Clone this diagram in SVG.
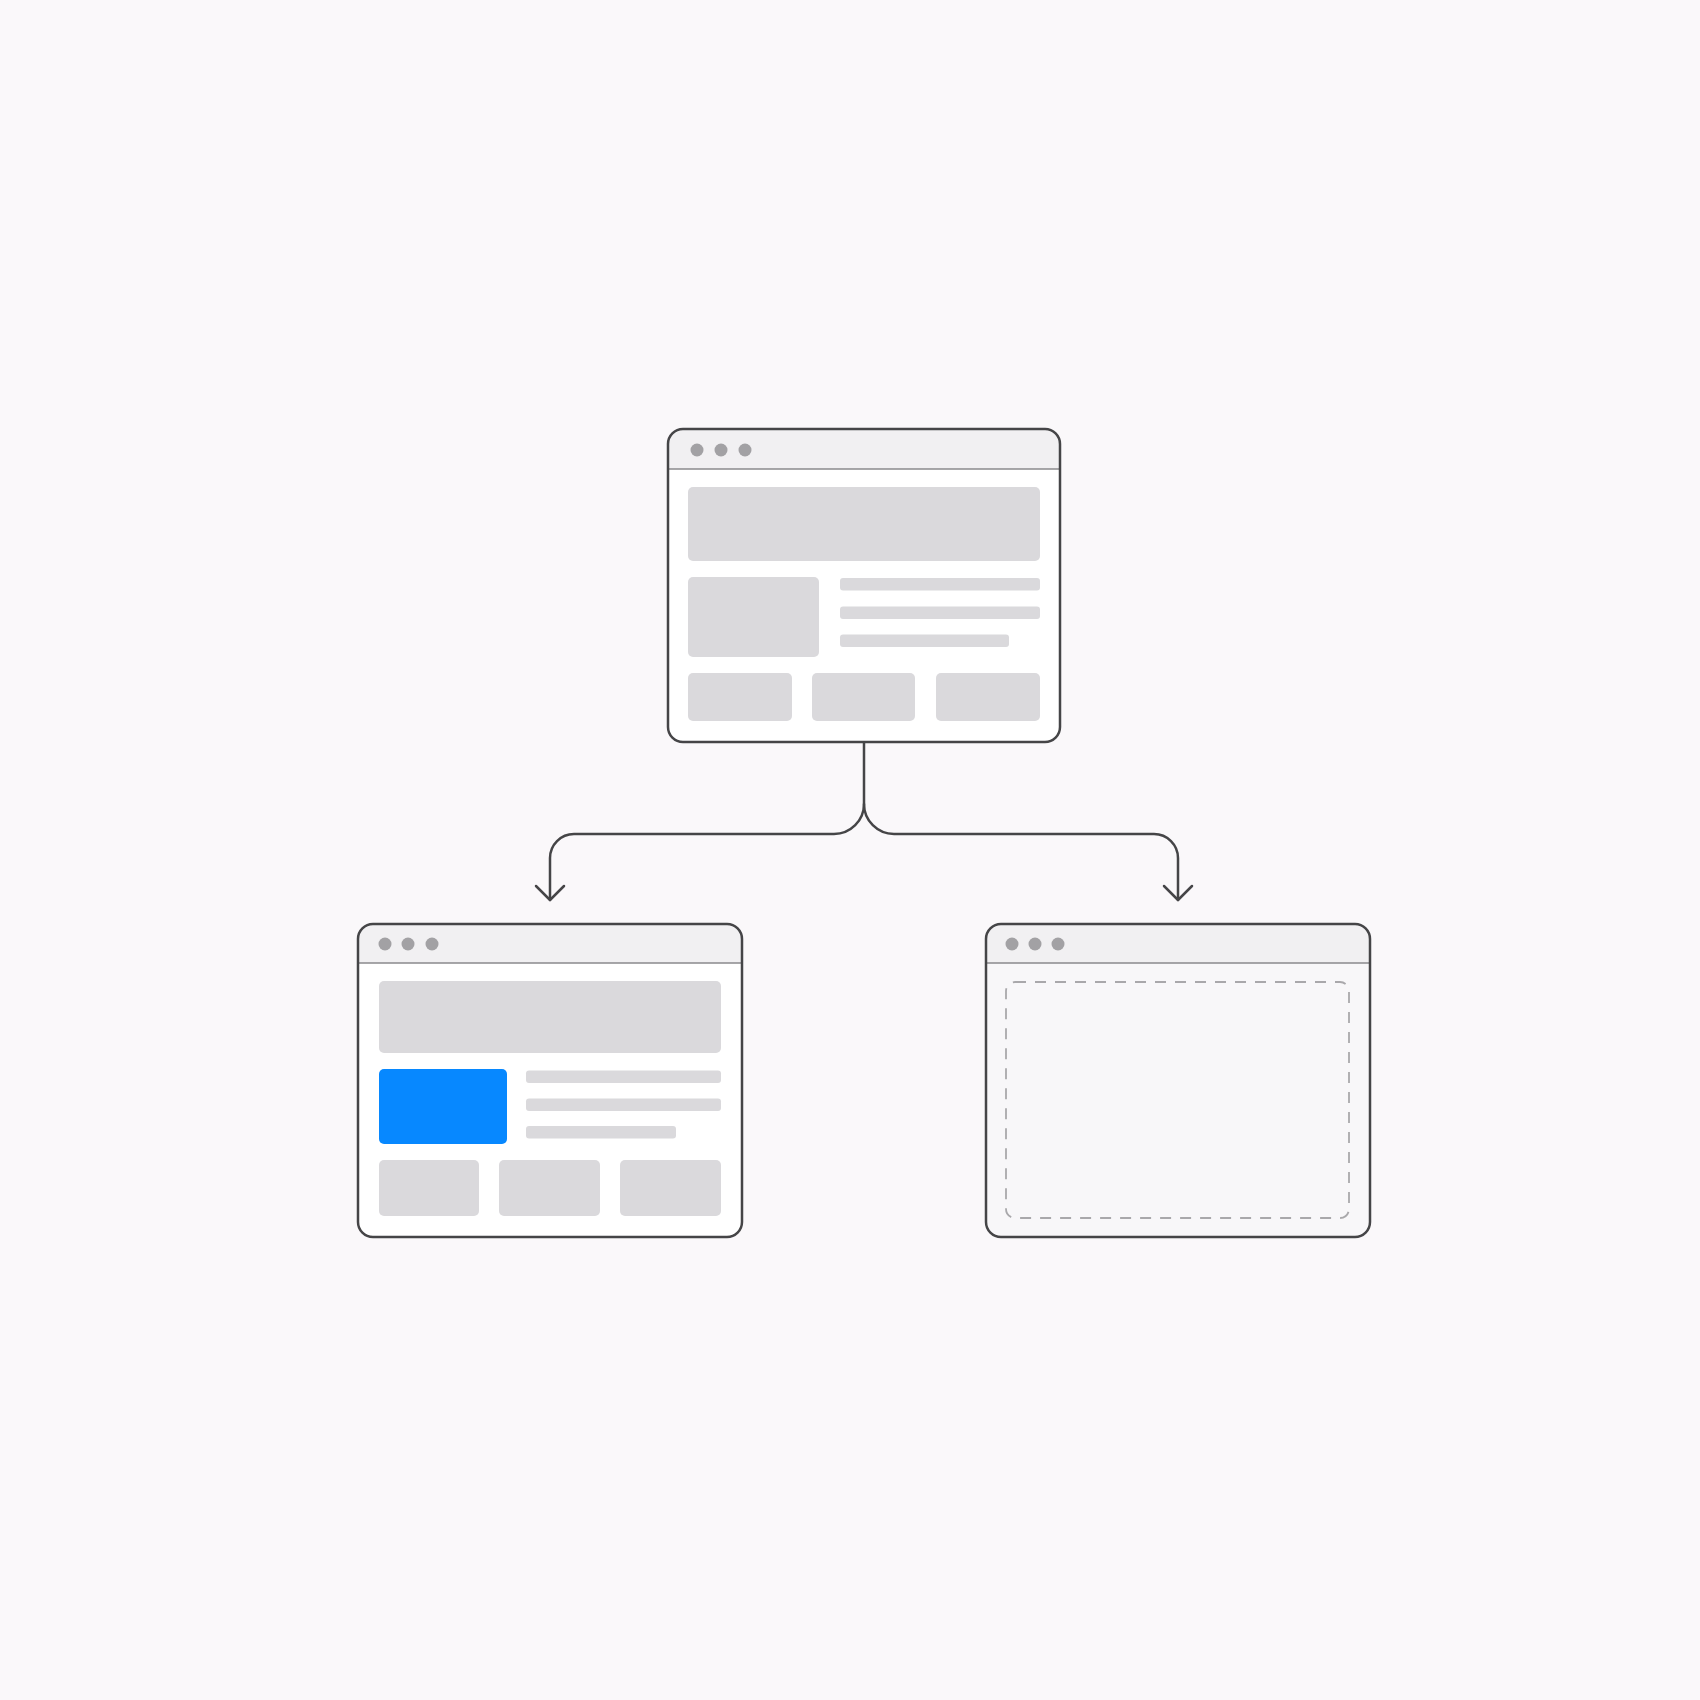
<svg xmlns="http://www.w3.org/2000/svg" width="1700" height="1700" viewBox="0 0 1700 1700">
<style>
.frame{fill:none;stroke:#454547;stroke-width:2.5}
.bar{fill:#f1f0f2}
.sep{stroke:#8a8a8c;stroke-width:1.6}
.dot{fill:#a2a1a4}
.blk{fill:#dad9dc}
.conn{fill:none;stroke:#454547;stroke-width:2.5;stroke-linecap:round;stroke-linejoin:round}
</style>
<rect width="1700" height="1700" fill="#faf8fa"/>
<g id="top-window">
<rect x="668" y="429" width="392" height="313" rx="15" fill="#ffffff"/>
<path class="bar" d="M668 469 V444 A15 15 0 0 1 683 429 H1045 A15 15 0 0 1 1060 444 V469 Z"/>
<line class="sep" x1="668" y1="469" x2="1060" y2="469"/>
<circle class="dot" cx="697" cy="450" r="6.5"/>
<circle class="dot" cx="721" cy="450" r="6.5"/>
<circle class="dot" cx="745" cy="450" r="6.5"/>
<rect class="blk" x="688" y="487" width="352" height="74" rx="5"/>
<rect class="blk" x="688" y="577" width="131" height="80" rx="5"/>
<rect class="blk" x="840" y="578" width="200" height="12.5" rx="3"/>
<rect class="blk" x="840" y="606.5" width="200" height="12.5" rx="3"/>
<rect class="blk" x="840" y="634.5" width="169" height="12.5" rx="3"/>
<rect class="blk" x="688" y="673" width="104" height="48" rx="5"/>
<rect class="blk" x="812" y="673" width="103" height="48" rx="5"/>
<rect class="blk" x="936" y="673" width="104" height="48" rx="5"/>
<rect class="frame" x="668" y="429" width="392" height="313" rx="15"/>
</g>
<g id="left-window">
<rect x="358" y="924" width="384" height="313" rx="15" fill="#ffffff"/>
<path class="bar" d="M358 963 V939 A15 15 0 0 1 373 924 H727 A15 15 0 0 1 742 939 V963 Z"/>
<line class="sep" x1="358" y1="963" x2="742" y2="963"/>
<circle class="dot" cx="385" cy="944" r="6.5"/>
<circle class="dot" cx="408" cy="944" r="6.5"/>
<circle class="dot" cx="432" cy="944" r="6.5"/>
<rect class="blk" x="379" y="981" width="342" height="72" rx="5"/>
<rect x="379" y="1069" width="128" height="75" rx="5" fill="#0788ff"/>
<rect class="blk" x="526" y="1070.5" width="195" height="12.5" rx="3"/>
<rect class="blk" x="526" y="1098.5" width="195" height="12.5" rx="3"/>
<rect class="blk" x="526" y="1126" width="150" height="12.5" rx="3"/>
<rect class="blk" x="379" y="1160" width="100" height="56" rx="5"/>
<rect class="blk" x="499" y="1160" width="101" height="56" rx="5"/>
<rect class="blk" x="620" y="1160" width="101" height="56" rx="5"/>
<rect class="frame" x="358" y="924" width="384" height="313" rx="15"/>
</g>
<g id="right-window">
<rect x="986" y="924" width="384" height="313" rx="15" fill="#f8f7f9"/>
<path class="bar" d="M986 963 V939 A15 15 0 0 1 1001 924 H1355 A15 15 0 0 1 1370 939 V963 Z"/>
<line class="sep" x1="986" y1="963" x2="1370" y2="963"/>
<circle class="dot" cx="1012" cy="944" r="6.5"/>
<circle class="dot" cx="1035" cy="944" r="6.5"/>
<circle class="dot" cx="1058" cy="944" r="6.5"/>
<rect x="1006" y="982" width="343" height="236" rx="9" fill="none" stroke="#a9a8ab" stroke-width="1.8" stroke-dasharray="11 9"/>
<rect class="frame" x="986" y="924" width="384" height="313" rx="15"/>
</g>
<g id="connectors">
<path class="conn" d="M864 743 V804 A30 30 0 0 1 834 834 H574 A24 24 0 0 0 550 858 V900"/>
<path class="conn" d="M864 804 A30 30 0 0 0 894 834 H1154 A24 24 0 0 1 1178 858 V900"/>
<polyline class="conn" points="536,886 550,900 564,886"/>
<polyline class="conn" points="1164,886 1178,900 1192,886"/>
</g>
</svg>
